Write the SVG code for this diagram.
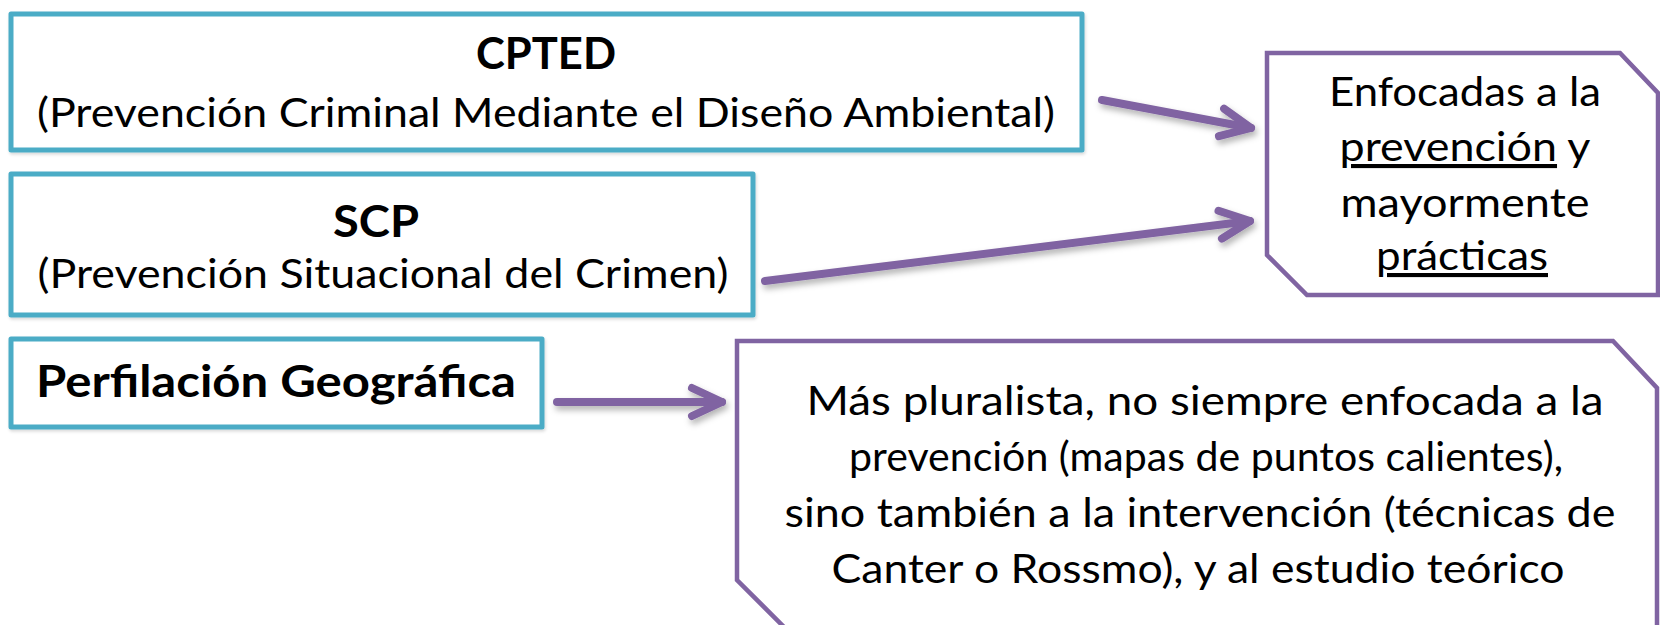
<svg xmlns="http://www.w3.org/2000/svg" width="1660" height="625" viewBox="0 0 1660 625">
<style>
.teal{fill:#fff;stroke:#4BACC6;stroke-width:5;stroke-linejoin:round}
.purp{fill:#fff;stroke:#8064A2;stroke-width:4.5;stroke-linejoin:miter}
.t{font-family:Lato,"Open Sans",sans-serif;fill:#000;text-anchor:middle}
.b{font-weight:700;font-size:44px}
.r{font-size:41px}
.u{text-decoration:underline}
.conn{fill:none;stroke:#8064A2;stroke-width:8;stroke-linecap:round;stroke-linejoin:round}
</style>
<defs>
<filter id="sh" x="-10%" y="-50%" width="120%" height="200%">
<feDropShadow dx="2" dy="4" stdDeviation="3" flood-color="#000" flood-opacity="0.3"/>
</filter>
<filter id="bsh" x="-5%" y="-10%" width="110%" height="120%">
<feDropShadow dx="1" dy="2" stdDeviation="1.5" flood-color="#000" flood-opacity="0.15"/>
</filter>
<marker id="ah" markerUnits="userSpaceOnUse" orient="auto" refX="0" refY="0" markerWidth="50" markerHeight="50" viewBox="-40 -25 50 50" overflow="visible">
<path d="M-30,-14 L0,0 L-30,14" fill="none" stroke="#8064A2" stroke-width="8" stroke-linecap="round" stroke-linejoin="round"/>
</marker>
</defs>
<rect width="1660" height="625" fill="#fff"/>

<g id="cpted">
<rect class="teal" x="11" y="14" width="1071" height="136" filter="url(#bsh)"/>
<text class="t b" x="546" y="69" textLength="140" lengthAdjust="spacingAndGlyphs">CPTED</text>
<text class="t r" x="546" y="127" textLength="1018" lengthAdjust="spacingAndGlyphs">(Prevención Criminal Mediante el Diseño Ambiental)</text>
</g>

<g id="scp">
<rect class="teal" x="11" y="174" width="742" height="141" filter="url(#bsh)"/>
<text class="t b" x="376" y="237" textLength="86" lengthAdjust="spacingAndGlyphs">SCP</text>
<text class="t r" x="383" y="288" textLength="691" lengthAdjust="spacingAndGlyphs">(Prevención Situacional del Crimen)</text>
</g>

<g id="perfilacion">
<rect class="teal" x="11" y="339" width="531" height="88" filter="url(#bsh)"/>
<text class="t b" x="276" y="397" textLength="480" lengthAdjust="spacingAndGlyphs">Perfilación Geográfica</text>
</g>

<g id="enfocadas">
<path class="purp" d="M1267,53 L1620,53 L1658,93 L1658,295 L1307,295 L1267,255 Z"/>
<text class="t r" x="1465" y="106" textLength="272" lengthAdjust="spacingAndGlyphs">Enfocadas a la</text>
<text class="t r" x="1465" y="161" textLength="251" lengthAdjust="spacingAndGlyphs"><tspan class="u">prevención</tspan> y</text>
<text class="t r" x="1465" y="217" textLength="249" lengthAdjust="spacingAndGlyphs">mayormente</text>
<text class="t r" x="1462" y="270" textLength="172" lengthAdjust="spacingAndGlyphs"><tspan class="u">prácticas</tspan></text>
</g>

<g id="pluralista">
<path class="purp" d="M737,341 L1613,341 L1657,388 L1657,645 L802,645 L737,580 Z"/>
<text class="t r" x="1205" y="415" textLength="797" lengthAdjust="spacingAndGlyphs">Más pluralista, no siempre enfocada a la</text>
<text class="t r" x="1206" y="471" textLength="714" lengthAdjust="spacingAndGlyphs">prevención (mapas de puntos calientes),</text>
<text class="t r" x="1200" y="527" textLength="831" lengthAdjust="spacingAndGlyphs">sino también a la intervención (técnicas de</text>
<text class="t r" x="1198" y="583" textLength="733" lengthAdjust="spacingAndGlyphs">Canter o Rossmo), y al estudio teórico</text>
</g>

<g id="connectors" filter="url(#sh)">
<path class="conn" d="M1102,100 L1251,128" marker-end="url(#ah)"/>
<path class="conn" d="M765,281 L1250,221" marker-end="url(#ah)"/>
<path class="conn" d="M557,402 L722,402" marker-end="url(#ah)"/>
</g>
</svg>
